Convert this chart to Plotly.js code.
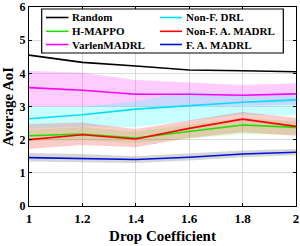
<!DOCTYPE html>
<html>
<head>
<meta charset="utf-8">
<script src="https://cdn.plot.ly/plotly-3.0.1.min.js"></script>
<style>html,body{margin:0;padding:0;background:#fff;}</style>
</head>
<body>
<div id="chart"></div>
<script>
// ---- data ----
const xVals = [1, 1.2, 1.4, 1.6, 1.8, 2];
const xTickVals = [1, 1.2, 1.4, 1.6, 1.8, 2];
const xTickText = ['1', '1.2', '1.4', '1.6', '1.8', '2'];
const yTickVals = [0, 1, 2, 3, 4, 5, 6];
const yTickText = ['0', '1', '2', '3', '4', '5', '6'];

const seriesNames = ['Random', 'H-MAPPO', 'VarlenMADRL', 'Non-F. DRL', 'Non-F. A. MADRL', 'F. A. MADRL'];

const randomMean = [4.55, 4.33, 4.22, 4.10, 4.08, 4.05];

const hmappoMean = [2.12, 2.17, 2.05, 2.25, 2.44, 2.37];
const hmappoLow  = [1.95, 1.98, 1.90, 2.03, 2.17, 2.15];
const hmappoHigh = [2.30, 2.38, 2.25, 2.45, 2.66, 2.55];

const varlenMean = [3.57, 3.49, 3.37, 3.37, 3.34, 3.38];
const varlenLow  = [3.00, 3.00, 3.00, 3.00, 3.02, 3.05];
const varlenHigh = [4.08, 4.02, 3.80, 3.73, 3.65, 3.70];

const nonfDrlMean = [2.63, 2.75, 2.92, 3.03, 3.13, 3.20];
const nonfDrlLow  = [2.33, 2.40, 2.38, 2.56, 2.76, 2.72];
const nonfDrlHigh = [3.00, 3.00, 3.16, 3.45, 3.35, 3.40];

const nonfAMean = [2.00, 2.15, 2.02, 2.34, 2.62, 2.40];
const nonfALow  = [1.72, 1.84, 1.77, 2.05, 2.22, 2.12];
const nonfAHigh = [2.47, 2.52, 2.32, 2.57, 2.84, 2.66];

const faMean = [1.46, 1.44, 1.40, 1.47, 1.57, 1.62];
const faLow  = [1.34, 1.33, 1.30, 1.37, 1.47, 1.53];
const faHigh = [1.60, 1.57, 1.50, 1.58, 1.67, 1.72];

// ---- styles ----
const FONT = 'Liberation Serif';
const lineColors = ['#000000', '#22dd00', '#ff00ff', '#00ddff', '#ff0000', '#0010dd'];
const bandColors = [null, 'rgba(0,255,0,0.16)', 'rgba(255,0,255,0.2)', 'rgba(0,255,255,0.22)', 'rgba(255,0,0,0.2)', 'rgba(90,90,90,0.25)'];
const bold = s => '<b>' + s + '</b>';

const means = [randomMean, hmappoMean, varlenMean, nonfDrlMean, nonfAMean, faMean];
const lows  = [null, hmappoLow, varlenLow, nonfDrlLow, nonfALow, faLow];
const highs = [null, hmappoHigh, varlenHigh, nonfDrlHigh, nonfAHigh, faHigh];

const traces = [];
for (let i = 0; i < means.length; i++) {
  if (!lows[i]) continue;
  traces.push({
    x: xVals.concat(xVals.slice().reverse()),
    y: highs[i].concat(lows[i].slice().reverse()),
    type: 'scatter', mode: 'lines', fill: 'toself',
    fillcolor: bandColors[i], line: {width: 0, color: 'rgba(0,0,0,0)'},
    hoverinfo: 'skip', showlegend: false
  });
}
for (let i = 0; i < means.length; i++) {
  traces.push({
    x: xVals, y: means[i], name: seriesNames[i],
    type: 'scatter', mode: 'lines',
    line: {color: lineColors[i], width: 1.6},
    showlegend: false
  });
}

// ---- manual legend (layout decorations) ----
const W = 300, H = 246, mL = 29, mR = 4, mT = 7, mB = 40;
const pw = W - mL - mR, ph = H - mT - mB;
const px = v => (v - mL) / pw;
const py = v => (H - mB - v) / ph;

const shapes = [{
  type: 'rect', xref: 'paper', yref: 'paper', layer: 'above',
  x0: px(41.7), x1: px(283.3), y0: py(53), y1: py(9),
  fillcolor: '#ffffff', line: {color: '#000000', width: 1.2}
}];
const annotations = [];
const colLineX = [[46, 68.5], [160, 182]];
const colTextX = [70, 183.5];
const rowY = [17.5, 31.3, 44.5];
for (let i = 0; i < seriesNames.length; i++) {
  const c = Math.floor(i / 3), r = i % 3;
  shapes.push({
    type: 'line', xref: 'paper', yref: 'paper', layer: 'above',
    x0: px(colLineX[c][0]), x1: px(colLineX[c][1]), y0: py(rowY[r]), y1: py(rowY[r]),
    line: {color: lineColors[i], width: 1.6}
  });
  annotations.push({
    xref: 'paper', yref: 'paper', x: px(colTextX[c]), y: py(rowY[r]),
    xanchor: 'left', yanchor: 'middle', showarrow: false,
    text: bold(seriesNames[i]),
    font: {family: FONT, size: 11, color: '#000'}
  });
}

const layout = {
  width: W, height: H,
  margin: {l: mL, r: mR, t: mT, b: mB, pad: 0},
  paper_bgcolor: '#ffffff', plot_bgcolor: '#ffffff',
  font: {family: FONT, size: 12, color: '#000'},
  showlegend: false,
  xaxis: {
    range: [1, 2], tickvals: xTickVals, ticktext: xTickText.map(bold),
    showline: true, linecolor: '#000', linewidth: 1.4, mirror: 'ticks',
    ticks: 'inside', ticklen: 3, tickcolor: '#000', tickwidth: 1,
    showgrid: true, gridcolor: '#dcdcdc', gridwidth: 1, zeroline: false,
    tickfont: {family: FONT, size: 13, color: '#000'},
    title: {text: bold('Drop Coefficient'), standoff: 5, font: {family: FONT, size: 15, color: '#000'}},
    automargin: false
  },
  yaxis: {
    range: [0, 6], tickvals: yTickVals, ticktext: yTickText.map(bold),
    showline: true, linecolor: '#000', linewidth: 1.4, mirror: 'ticks',
    ticks: 'inside', ticklen: 3, tickcolor: '#000', tickwidth: 1,
    showgrid: true, gridcolor: '#dcdcdc', gridwidth: 1, zeroline: false,
    ticklabeloverflow: 'allow',
    tickfont: {family: FONT, size: 12, color: '#000'},
    title: {text: bold('Average AoI'), standoff: 4, font: {family: FONT, size: 15, color: '#000'}},
    automargin: false
  },
  shapes: shapes,
  annotations: annotations
};

Plotly.newPlot('chart', traces, layout, {displayModeBar: false});
</script>
</body>
</html>
